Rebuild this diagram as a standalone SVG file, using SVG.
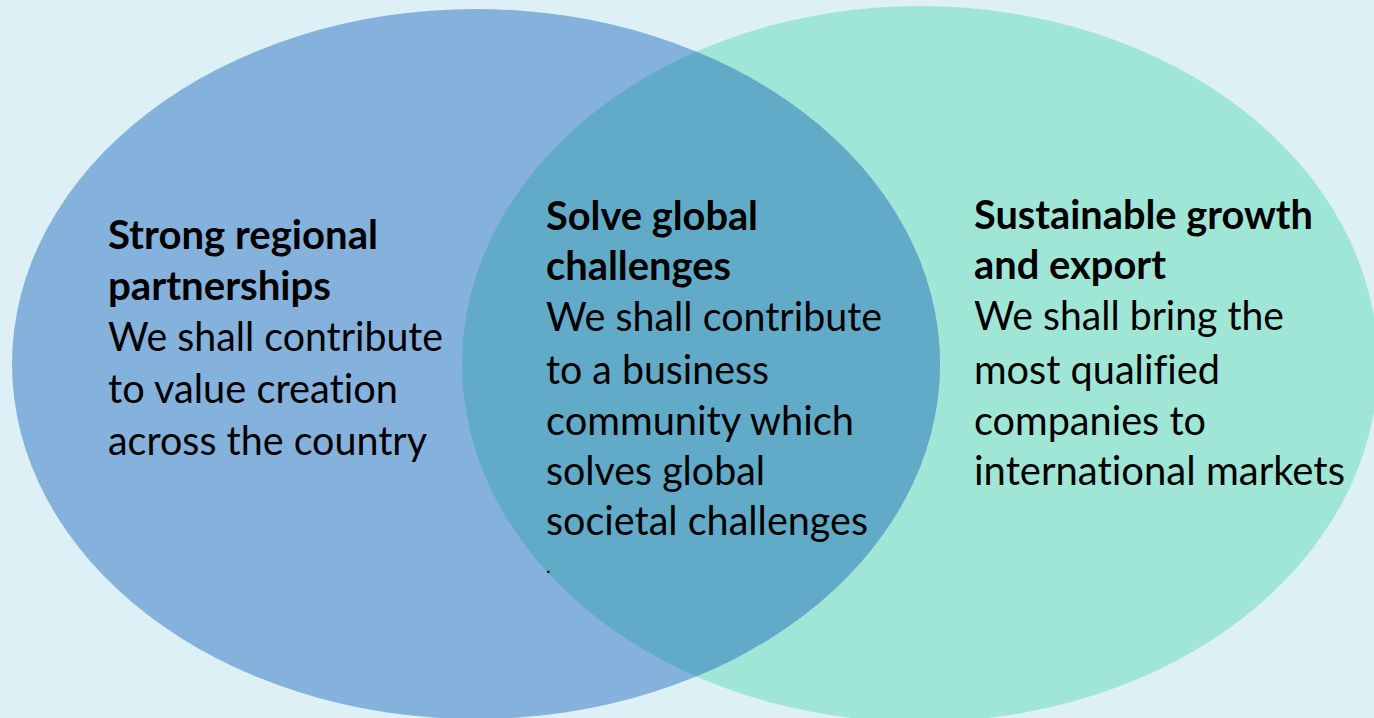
<svg xmlns="http://www.w3.org/2000/svg" width="1374" height="718" viewBox="0 0 1374 718">
  <style>
    .t { font-family: Lato, "Open Sans", "Liberation Sans", sans-serif; font-size: 41px; fill: #000; font-variant-ligatures: none; font-feature-settings: "liga" 0, "dlig" 0; }
    .b { font-weight: bold; }
  </style>
  <defs>
    <clipPath id="clipRight">
      <ellipse cx="920" cy="364" rx="458" ry="358"/>
    </clipPath>
  </defs>
  <rect x="0" y="0" width="1374" height="718" fill="#dcf0f5"/>
  <g id="shapes">
    <g id="circle-right">
      <ellipse cx="920" cy="364" rx="458" ry="358" fill="#a0e6d6"/>
    </g>
    <g id="circle-left">
      <ellipse cx="476" cy="364" rx="464" ry="355" fill="#84b2dc"/>
    </g>
    <g id="overlap">
      <ellipse cx="476" cy="364" rx="464" ry="355" fill="#62abc8" clip-path="url(#clipRight)"/>
    </g>
  </g>
  <g id="connectors"/>
  <g id="node-left">
    <text class="t b" x="108" y="249" textLength="270" lengthAdjust="spacingAndGlyphs">Strong regional</text>
    <text class="t b" x="108" y="300" textLength="223" lengthAdjust="spacingAndGlyphs">partnerships</text>
    <text class="t" x="108" y="351" textLength="335" lengthAdjust="spacingAndGlyphs">We shall contribute</text>
    <text class="t" x="108" y="403" textLength="290" lengthAdjust="spacingAndGlyphs">to value creation</text>
    <text class="t" x="108" y="455" textLength="319" lengthAdjust="spacingAndGlyphs">across the country</text>
  </g>
  <g id="node-middle">
    <text class="t b" x="546" y="230" textLength="212" lengthAdjust="spacingAndGlyphs">Solve global</text>
    <text class="t b" x="546" y="280" textLength="185" lengthAdjust="spacingAndGlyphs">challenges</text>
    <text class="t" x="546" y="331" textLength="336" lengthAdjust="spacingAndGlyphs">We shall contribute</text>
    <text class="t" x="546" y="384" textLength="223" lengthAdjust="spacingAndGlyphs">to a business</text>
    <text class="t" x="546" y="435" textLength="308" lengthAdjust="spacingAndGlyphs">community which</text>
    <text class="t" x="546" y="485" textLength="219" lengthAdjust="spacingAndGlyphs">solves global</text>
    <text class="t" x="546" y="535" textLength="322" lengthAdjust="spacingAndGlyphs">societal challenges</text>
    <text class="t" x="546" y="573" style="font-size:20px">.</text>
  </g>
  <g id="node-right">
    <text class="t b" x="974" y="229" textLength="339" lengthAdjust="spacingAndGlyphs">Sustainable growth</text>
    <text class="t b" x="974" y="279" textLength="192" lengthAdjust="spacingAndGlyphs">and export</text>
    <text class="t" x="974" y="330" textLength="310" lengthAdjust="spacingAndGlyphs">We shall bring the</text>
    <text class="t" x="974" y="384" textLength="246" lengthAdjust="spacingAndGlyphs">most qualified</text>
    <text class="t" x="974" y="435" textLength="232" lengthAdjust="spacingAndGlyphs">companies to</text>
    <text class="t" x="974" y="485" textLength="371" lengthAdjust="spacingAndGlyphs">international markets</text>
  </g>
</svg>
